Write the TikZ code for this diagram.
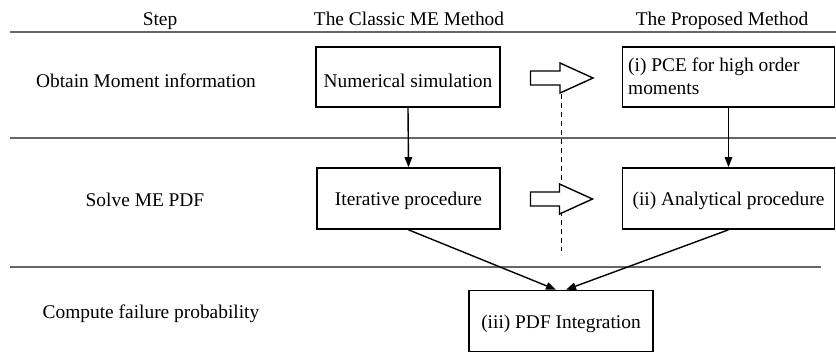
\documentclass[tikz,border=0pt]{standalone}
\usepackage{fontspec}
\setmainfont{Liberation Serif}
\usetikzlibrary{arrows.meta}
\begin{document}
\begin{tikzpicture}[x=1pt,y=-1pt,
  txt/.style={font=\fontsize{19.4}{22.3}\selectfont, inner sep=0pt},
  box/.style={draw, line width=1.6pt, inner sep=0pt},
  sep/.style={draw=black!60, line width=1.7pt},
  conn/.style={line width=1.4pt, -{Triangle[length=10pt,width=7.5pt]}},
  hollow/.style={draw, line width=1.4pt, fill=white, line join=miter},
  dashline/.style={line width=1.1pt, dash pattern=on 5pt off 4pt}]
\useasboundingbox (0,0) rectangle (836,354);
% separators
\draw[sep] (10,32) -- (836,32);
\draw[sep] (10,138) -- (836,138);
\draw[sep] (10,267) -- (821,267);
% headers
\node[txt, anchor=base] (hstep) at (160,25) {Step};
\node[txt, anchor=base] (hclass) at (409,25) {The Classic ME Method};
\node[txt, anchor=base] (hprop) at (722,25) {The Proposed Method};
% row labels
\node[txt, anchor=base] (r1) at (146,87) {Obtain Moment information};
\node[txt, anchor=base] (r2) at (145,206) {Solve ME PDF};
\node[txt, anchor=base] (r3) at (151,318) {Compute failure probability};
% boxes
\node[box, minimum width=184pt, minimum height=60pt] (num) at (408,77) {};
\node[txt, anchor=base] at (408,87) {Numerical simulation};
\node[box, minimum width=212pt, minimum height=60pt] (pce) at (728.5,77) {};
\node[txt, anchor=base west] at (628,71.7) {(i) PCE for high order};
\node[txt, anchor=base west] at (628,94) {moments};
\node[box, minimum width=183pt, minimum height=61pt] (iter) at (408.5,198.5) {};
\node[txt, anchor=base] at (408.5,205) {Iterative procedure};
\node[box, minimum width=212pt, minimum height=61pt] (anal) at (728.5,198.5) {};
\node[txt, anchor=base] at (728.5,205) {(ii) Analytical procedure};
\node[box, minimum width=184pt, minimum height=61pt] (pdf) at (561,321) {};
\node[txt, anchor=base] at (561,328) {(iii) PDF Integration};
% connectors
\draw[conn] (num.south) -- (iter.north);
\draw[conn] (pce.south) -- (anal.north);
\draw[conn] (iter.south) -- ([xshift=-5pt]pdf.north);
\draw[conn] (anal.south) -- ([xshift=5pt]pdf.north);
% dashed divider
\coordinate (dtop) at (561.5,94);
\coordinate (dbot) at (561.5,251);
\draw[dashline] (dtop) -- (dbot);
% hollow arrows
\draw[hollow] (530.5,71) -- (560,71) -- (560,63) -- (593,78) -- (560,93) -- (560,85) -- (530.5,85) -- cycle;
\draw[hollow] (530.5,192) -- (559.5,192) -- (559.5,184) -- (592.5,199) -- (559.5,214) -- (559.5,206) -- (530.5,206) -- cycle;
\end{tikzpicture}
\end{document}
